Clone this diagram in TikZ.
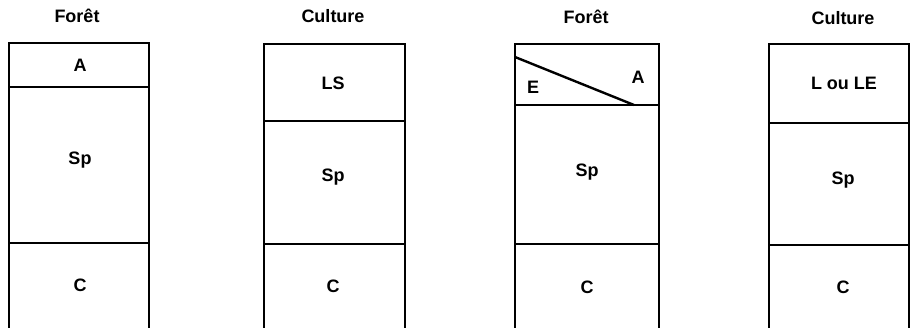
\documentclass[tikz,border=0pt]{standalone}
\usepackage{fontspec}
\setmainfont{Liberation Sans}
\begin{document}
\begin{tikzpicture}[x=1pt,y=-1pt,
  wall/.style={line width=2.4pt, line cap=rect},
  seam/.style={line width=2.4pt},
  lbl/.style={font=\fontsize{18}{21}\selectfont\bfseries, inner sep=0pt},
  ttl/.style={font=\fontsize{18}{21}\selectfont\bfseries, inner sep=0pt}]
\useasboundingbox (0,0) rectangle (911,328);

% --- profile 1 : forest ---
\draw[wall] (9,330) -- (9,43) -- (149,43) -- (149,330);
\draw[seam] (9,87) -- (149,87);
\draw[seam] (9,243) -- (149,243);
\node[ttl] (t1) at (77,16) {Forêt};
\node[lbl] (a1) at (80,65) {A};
\node[lbl] (s1) at (80,160) {Sp};
\node[lbl] (c1) at (80,285) {C};

% --- profile 2 : cultivated ---
\draw[wall] (264,330) -- (264,44) -- (405,44) -- (405,330);
\draw[seam] (264,121) -- (405,121);
\draw[seam] (264,244) -- (405,244);
\node[ttl] (t2) at (333,16) {Culture};
\node[lbl] (l2) at (333,83) {LS};
\node[lbl] (s2) at (333,177) {Sp};
\node[lbl] (c2) at (333,286) {C};

% --- profile 3 : forest with wedge horizon ---
\draw[wall] (515,330) -- (515,44) -- (659,44) -- (659,330);
\draw[seam] (515,105) -- (659,105);
\draw[seam] (515,57) -- (634,105);
\draw[seam] (515,244) -- (659,244);
\node[ttl] (t3) at (586,17) {Forêt};
\node[lbl] (e3) at (533,87) {E};
\node[lbl] (a3) at (638,77) {A};
\node[lbl] (s3) at (587,172) {Sp};
\node[lbl] (c3) at (587,287) {C};

% --- profile 4 : cultivated ---
\draw[wall] (769,330) -- (769,44) -- (909,44) -- (909,330);
\draw[seam] (769,123) -- (909,123);
\draw[seam] (769,245) -- (909,245);
\node[ttl] (t4) at (843,18) {Culture};
\node[lbl] (l4) at (844,83) {L ou LE};
\node[lbl] (s4) at (843,180) {Sp};
\node[lbl] (c4) at (843,287) {C};
\end{tikzpicture}
\end{document}
